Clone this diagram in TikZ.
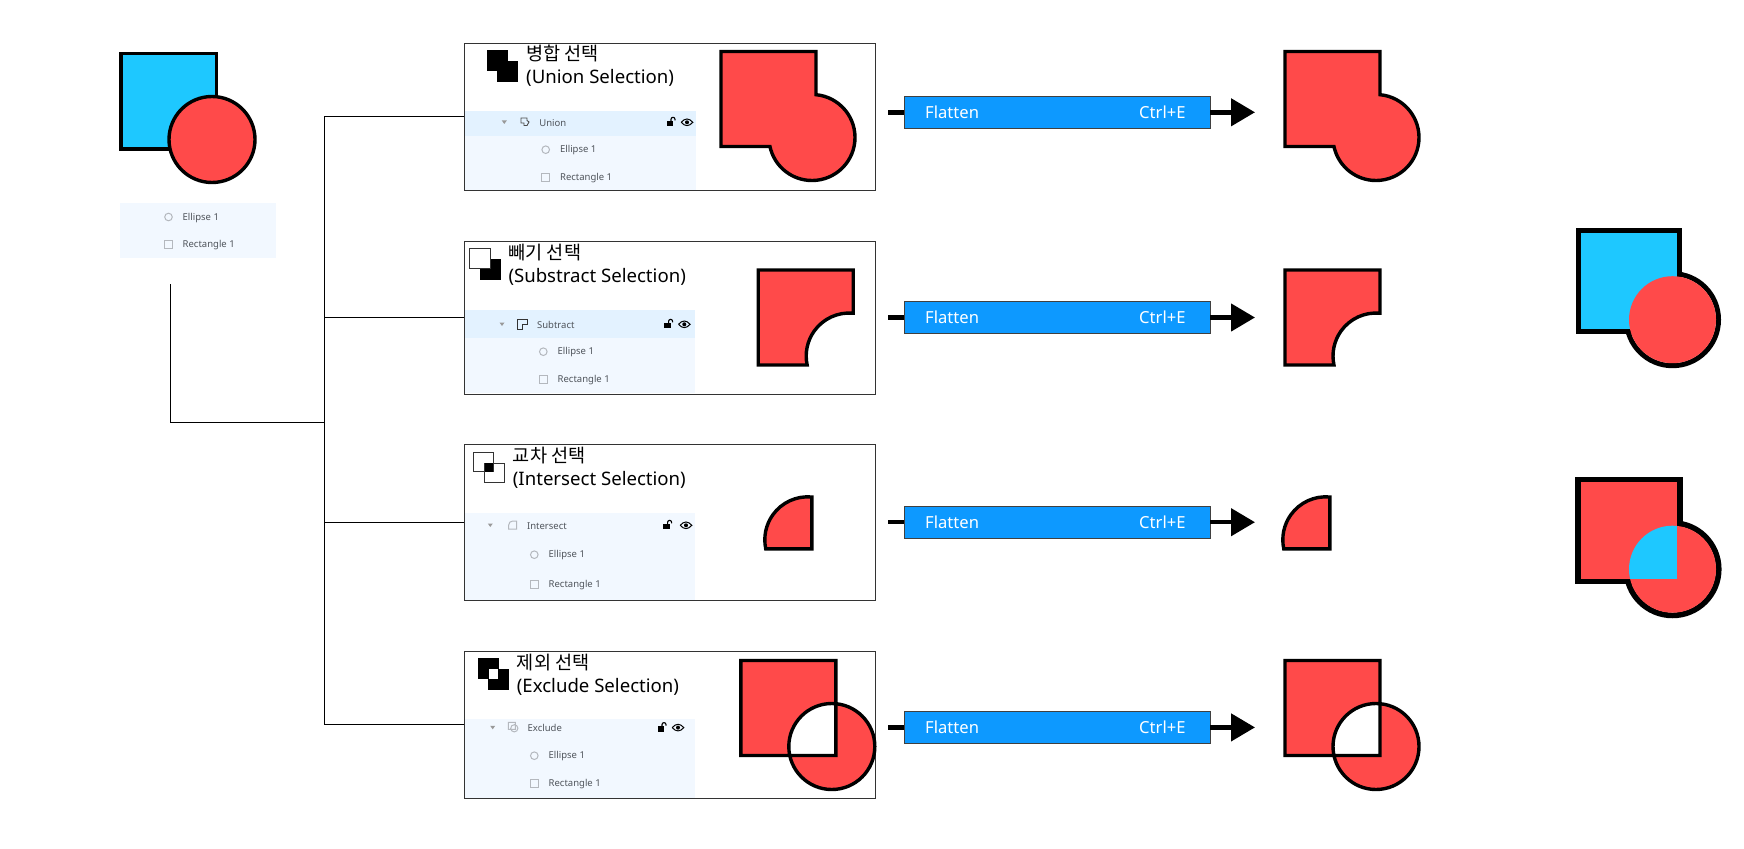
\documentclass[tikz,border=0pt]{standalone}
\usepackage{fontspec}
\setmainfont{Noto Sans}
\newfontfamily\krfont{Noto Sans CJK KR}
\usetikzlibrary{arrows.meta,positioning,calc}
\definecolor{shpred}{HTML}{FF4A4A}
\definecolor{shpblue}{HTML}{1EC8FF}
\definecolor{fltblue}{HTML}{0D99FF}
\definecolor{rowbody}{HTML}{F2F8FF}
\definecolor{rowhead}{HTML}{E3F2FF}
\definecolor{rowtxt}{HTML}{50555C}
\definecolor{icngray}{HTML}{B4B8BE}
\tikzset{
  redshp/.style={fill=shpred,draw=black,line width=3.4pt,miter limit=10},
  panel/.style={draw=black!80,line width=1pt,fill=white,rectangle,inner sep=0pt,minimum width=410.5pt},
  ttl/.style={anchor=west,align=left,inner sep=0pt,font=\fontsize{18.6}{23.4}\selectfont},
  lyrtxt/.style={anchor=west,inner sep=0pt,text=rowtxt,font=\fontsize{9.5}{11}\selectfont},
  icn/.style={draw=icngray,line width=1pt},
  wire/.style={draw=black,line width=1pt},
  fltbar/.style={fill=fltblue,draw=black!75,line width=0.8pt,rectangle,inner sep=0pt,minimum width=305.5pt,minimum height=32pt},
  flttxt/.style={anchor=west,inner sep=0pt,text=white,font=\fontsize{16.6}{18}\selectfont},
  stub/.style={line width=4.5pt},
  fltarr/.style={line width=4.5pt,-{Triangle[length=24pt,width=27pt]}},
  blksq/.style={fill=black,draw=black,line width=0.5pt},
  opnsq/.style={fill=white,draw=black!80,line width=1pt},
  % flatten result shapes, origin at the square's top left
  shunion/.pic={\draw[redshp] (0,0) -- (95,0) -- (95,-43.2) arc[start angle=84.66,end angle=-167.92,radius=43] -- (0,-95) -- cycle;},
  shsubtract/.pic={\draw[redshp] (0,0) -- (95,0) -- (95,-43.2) arc[start angle=84.66,end angle=192.08,radius=43] -- (0,-95) -- cycle;},
  shintersect/.pic={\draw[redshp] (95,-43.2) arc[start angle=84.66,end angle=192.08,radius=43] -- (95,-95) -- cycle;},
  shexclude/.pic={\draw[redshp,even odd rule] (0,0) rectangle (95,-95) (91,-86) circle[radius=43];},
  % small layer icons
  lockicn/.pic={\fill[black] (-4,-4) rectangle (2.5,1.5);
    \draw[line width=1.1pt] (0.3,1.5) -- (0.3,3) arc[start angle=180,end angle=0,radius=2] -- (4.3,2);},
  eyeicn/.pic={\draw[line width=1pt] (-5.8,0) .. controls (-2,4.4) and (2,4.4) .. (5.8,0) .. controls (2,-4.4) and (-2,-4.4) .. (-5.8,0);
    \fill[black] (0,0) circle[radius=2];},
  icunion/.pic={\draw[draw=black!70,line width=0.9pt] (-4,4) -- (2,4) -- (2,1.5) -- (4,0) -- (2,-3.5) -- (-1,-3.5) -- (-1,-1) -- (-4,-1) -- cycle;},
  icsubtract/.pic={\draw[draw=black!80,line width=1pt] (-5,5) -- (5,5) -- (5,0) -- (0,0) -- (0,-5) -- (-5,-5) -- cycle;},
  icintersect/.pic={\draw[icn] (-4,-4) -- (-4,0) arc[start angle=180,end angle=90,radius=4] -- (4,4) -- (4,-4) -- cycle;},
  icexclude/.pic={\draw[icn] (-5,5) rectangle (2,-2) (1,-1) circle[radius=3.6];}
}

\begin{document}
\begin{tikzpicture}[x=1pt,y=1pt]
  \useasboundingbox (0,0) rectangle (1744,-848);
  \fill[white] (0,0) rectangle (1744,-848);

  % Source shapes and layer list
  \draw[fill=shpblue,draw=black,line width=3.4pt] (121,-53.5) rectangle (216.5,-149);
  \draw[redshp] (212,-139.5) circle[radius=43];
  \fill[rowbody] (120,-203) rectangle (276,-258);
  \draw[icn] (168.5,-217) circle[radius=3.8];
  \draw[icn] (164.5,-240.5) rectangle (172.5,-248.5);
  \node[lyrtxt] (srcEll) at (182.5,-217.8) {Ellipse 1};
  \node[lyrtxt] (srcRec) at (182.5,-245.3) {Rectangle 1};

  % Panels
  \node[panel, minimum height=147.5pt] (pnlU) at (669.75,-116.8) {};
  \node[panel, minimum height=153pt] (pnlS) at (669.75,-317.5) {};
  \node[panel, minimum height=156pt] (pnlI) at (669.75,-522.5) {};
  \node[panel, minimum height=147.7pt] (pnlE) at (669.75,-725) {};

  % Tree connectors
  \coordinate (srcEnd) at (170.5,-284);
  \coordinate (trkMid) at (324,-422.6);
  \coordinate (trkTop) at (324,-116.7);
  \coordinate (trkSub) at (324,-317.3);
  \coordinate (trkInt) at (324,-522.3);
  \coordinate (trkExc) at (324,-724.8);
  \draw[wire] (srcEnd) |- (trkMid);
  \draw[wire] (pnlU.west |- trkTop) -- (trkTop) -- (trkExc) -- (pnlE.west |- trkExc);
  \draw[wire] (trkSub) -- (pnlS.west |- trkSub);
  \draw[wire] (trkInt) -- (pnlI.west |- trkInt);

  % Layer lists
  \fill[rowbody] (465,-135.7) rectangle (696,-189.5);
  \fill[rowhead] (465,-111) rectangle (696,-135.7);
  \fill[rowbody] (465,-337.7) rectangle (695,-393.2);
  \fill[rowhead] (465,-310) rectangle (695,-337.7);
  \fill[rowbody] (465,-512.7) rectangle (695,-599.8);
  \fill[rowbody] (465,-719.3) rectangle (695,-798.2);

  \foreach \nm/\lbl/\yh/\ya/\yb/\xt/\xg/\xc/\xl/\xe in {
      U/Union/122/149.7/177.3/504.3/525/545.7/670.7/687,
      S/Subtract/324/351.7/379/502/522.7/543.3/668.3/684.3,
      I/Intersect/525/554.7/584/490.3/512.7/534.3/667.3/686,
      E/Exclude/727.3/755.7/783.7/492.7/513.3/534.3/661.7/678}{
    \fill[black!40] (\xt-2.5,-\yh+1.5) -- (\xt+2.5,-\yh+1.5) -- (\xt,-\yh-2) -- cycle;
    \node[lyrtxt] (grp\nm) at (\xg+14.2,-\yh-0.8) {\lbl};
    \draw[icn] (\xc,-\ya) circle[radius=3.8];
    \draw[icn] (\xc-4,-\yb+4) rectangle (\xc+4,-\yb-4);
    \node[lyrtxt] (ell\nm) at (\xc+14.2,-\ya-0.8) {Ellipse 1};
    \node[lyrtxt] (rec\nm) at (\xc+14.2,-\yb-0.8) {Rectangle 1};
    \pic at (\xl,-\yh-0.3) {lockicn};
    \pic at (\xe,-\yh-0.3) {eyeicn};
  }
  \pic at (525,-122) {icunion};
  \pic at (522.7,-324) {icsubtract};
  \pic at (512.7,-525) {icintersect};
  \pic at (513.3,-727.3) {icexclude};

  % Titles and selection icons
  \node[ttl] (ttlU) at (526,-66) {{\krfont 병합 선택}\\(Union Selection)};
  \node[ttl] (ttlS) at (508.3,-265) {{\krfont 빼기 선택}\\(Substract Selection)};
  \node[ttl] (ttlI) at (512.7,-468) {{\krfont 교차 선택}\\(Intersect Selection)};
  \node[ttl] (ttlE) at (516.7,-675) {{\krfont 제외 선택}\\(Exclude Selection)};

  \draw[blksq] (487,-50.3) rectangle (507.2,-70.3);
  \draw[blksq] (497.5,-60.8) rectangle (517.5,-80.8);

  \draw[blksq] (480.2,-259.2) rectangle (500.5,-278.8);
  \draw[opnsq] (469.7,-248.7) rectangle (490,-268.3);

  \draw[opnsq] (473.5,-452.5) rectangle (493.3,-471.7);
  \draw[opnsq, fill=none] (484.5,-463) rectangle (504,-482.3);
  \fill[black] (484.5,-463) rectangle (493.3,-471.7);

  \draw[blksq] (478,-658.5) rectangle (498,-678.7);
  \draw[blksq] (488.5,-669) rectangle (508.5,-689.2);
  \fill[white] (488.5,-669) rectangle (498,-678.7);

  % Shapes inside the panels
  \pic at (721,-51.5) {shunion};
  \pic at (758.2,-270) {shsubtract};
  \pic at (716.8,-453.8) {shintersect};
  \pic at (740.8,-660.5) {shexclude};

  % Flatten bars
  \foreach \nm/\yy in {U/112.3,S/317.5,I/522.2,E/727.4}{
    \node[fltbar] (flt\nm) at (1057.2,-\yy) {};
    \coordinate (fin\nm) at (888.3,-\yy);
    \coordinate (fout\nm) at (1255,-\yy);
    \draw[stub] (fin\nm) -- (flt\nm);
    \draw[fltarr] (flt\nm) -- (fout\nm);
    \node[flttxt] (fltA\nm) at (925,-\yy) {Flatten};
    \node[flttxt] (fltB\nm) at (1139,-\yy) {Ctrl+E};
  }

  % Flatten results
  \pic at (1285,-51.5) {shunion};
  \pic at (1285,-270) {shsubtract};
  \pic at (1234.8,-453.8) {shintersect};
  \pic at (1285,-660.5) {shexclude};

  % Outlined shapes on the right
  \draw[draw=black,line width=5pt] (1578.5,-230.8) rectangle (1679.7,-331.6);
  \draw[draw=black,line width=5pt] (1672.5,-319.7) circle[radius=46];
  \fill[shpblue] (1581,-233.3) rectangle (1677.3,-329.3);
  \fill[shpred] (1672.5,-319.7) circle[radius=43.5];

  \draw[draw=black,line width=5.7pt] (1577.9,-479.5) rectangle (1680.1,-581.5);
  \draw[draw=black,line width=5.7pt] (1672.5,-569.2) circle[radius=46.2];
  \fill[shpred] (1581,-482.3) rectangle (1677.3,-579);
  \fill[shpred] (1672.5,-569.2) circle[radius=43.5];
  \begin{scope}
    \clip (1672.5,-569.2) circle[radius=43.5];
    \fill[shpblue] (1581,-482.3) rectangle (1677.3,-579);
  \end{scope}
\end{tikzpicture}
\end{document}
